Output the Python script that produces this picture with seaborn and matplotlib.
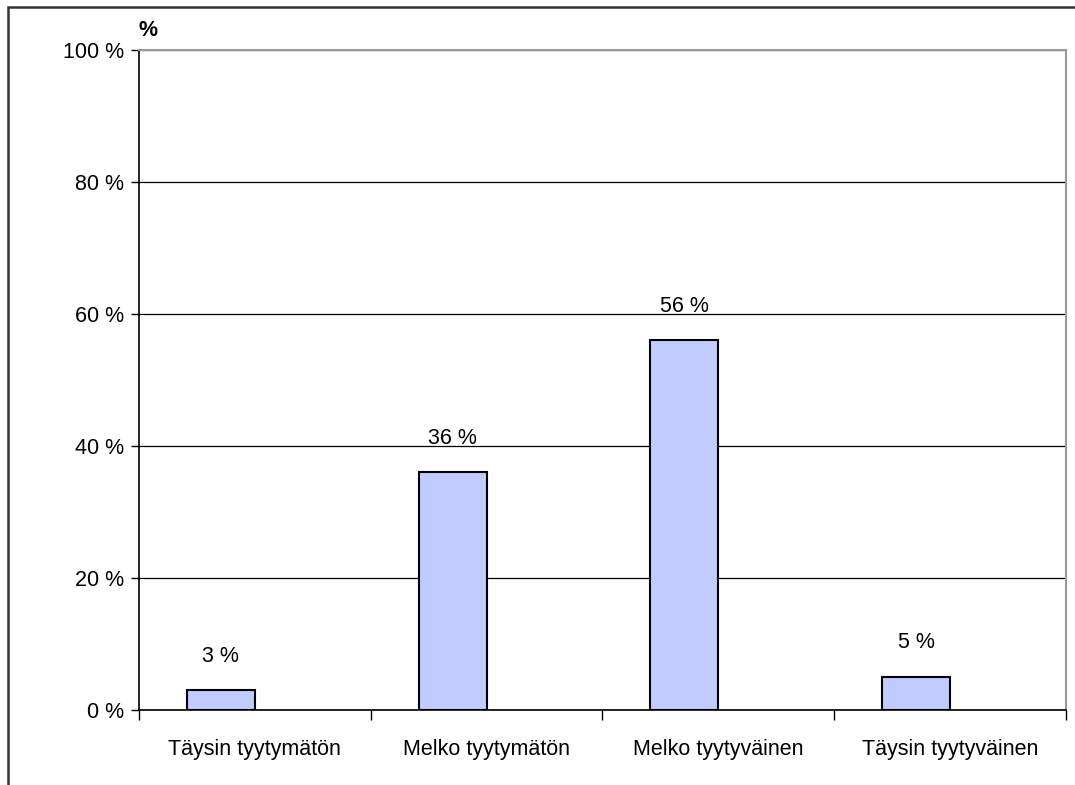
import matplotlib
matplotlib.use("Agg")
import matplotlib.pyplot as plt
from matplotlib.patches import Rectangle
import numpy as np
import pandas as pd
import seaborn as sns

# satisfaction survey shares (percent)
CATEGORIES = ["Täysin tyytymätön", "Melko tyytymätön", "Melko tyytyväinen", "Täysin tyytyväinen"]
VALUES = [3, 36, 56, 5]
Y_TICKS = [0, 20, 40, 60, 80, 100]
BAR_COLOR = "#C0CBFF"
FS = 15.5

sns.set_theme(style="white")
plt.rcParams["font.family"] = ["Liberation Sans", "DejaVu Sans"]
plt.rcParams["text.color"] = "black"
plt.rcParams["xtick.color"] = "black"
plt.rcParams["ytick.color"] = "black"

# Excel-style chart with a second, empty series next to each bar
df = pd.DataFrame({
    "cat": CATEGORIES * 2,
    "val": VALUES + [np.nan] * len(VALUES),
    "series": ["a"] * len(VALUES) + ["b"] * len(VALUES),
})

fig = plt.figure(figsize=(10.75, 7.85), dpi=100)
ax = fig.add_axes([0.1293, 0.0955, 0.8623, 0.8408])

sns.barplot(data=df, x="cat", y="val", hue="series", hue_order=["a", "b"],
            order=CATEGORIES, palette=[BAR_COLOR, BAR_COLOR], width=0.586,
            gap=0, edgecolor="black", linewidth=1.5, saturation=1,
            legend=False, ax=ax, errorbar=None)

for c in ax.containers:
    ax.bar_label(c, labels=[f"{v:.0f} %" if not np.isnan(v) else "" for v in c.datavalues],
                 padding=17, fontsize=FS, color="black")

ax.set_xlim(-0.5, len(CATEGORIES) - 0.5)
ax.set_ylim(0, 100)
ax.set_yticks(Y_TICKS)
ax.set_yticklabels([f"{t} %" for t in Y_TICKS], fontsize=FS)
ax.set_xticks(range(len(CATEGORIES)))
ax.set_xticklabels(CATEGORIES, fontsize=FS)
ax.set_xticks(np.arange(-0.5, len(CATEGORIES)), minor=True)
ax.tick_params(axis="x", which="major", length=0, pad=21)
ax.tick_params(axis="x", which="minor", length=7, width=1, color="black", direction="out", bottom=True)
ax.tick_params(axis="y", length=6, width=1, color="black", direction="out", left=True, pad=5)
ax.set_xlabel("")
ax.set_ylabel("")

ax.yaxis.grid(True, color="black", linewidth=0.9)
ax.set_axisbelow(True)
for s in ["left", "bottom"]:
    ax.spines[s].set_color("black")
    ax.spines[s].set_linewidth(1.2)
for s in ["top", "right"]:
    ax.spines[s].set_color("#9a9a9a")
    ax.spines[s].set_linewidth(1.5)

ax.text(0.01, 1.03, "%", transform=ax.transAxes, fontsize=FS,
        fontweight="bold", ha="center", va="center", color="black")

# outer chart frame (partly clipped, as in the original)
fig.add_artist(Rectangle((8 / 1075, -0.2), 1.2, 1.2 - 7 / 785,
                         transform=fig.transFigure, fill=False,
                         edgecolor="#333333", linewidth=1.8))

fig.savefig("out.png", dpi=100)
